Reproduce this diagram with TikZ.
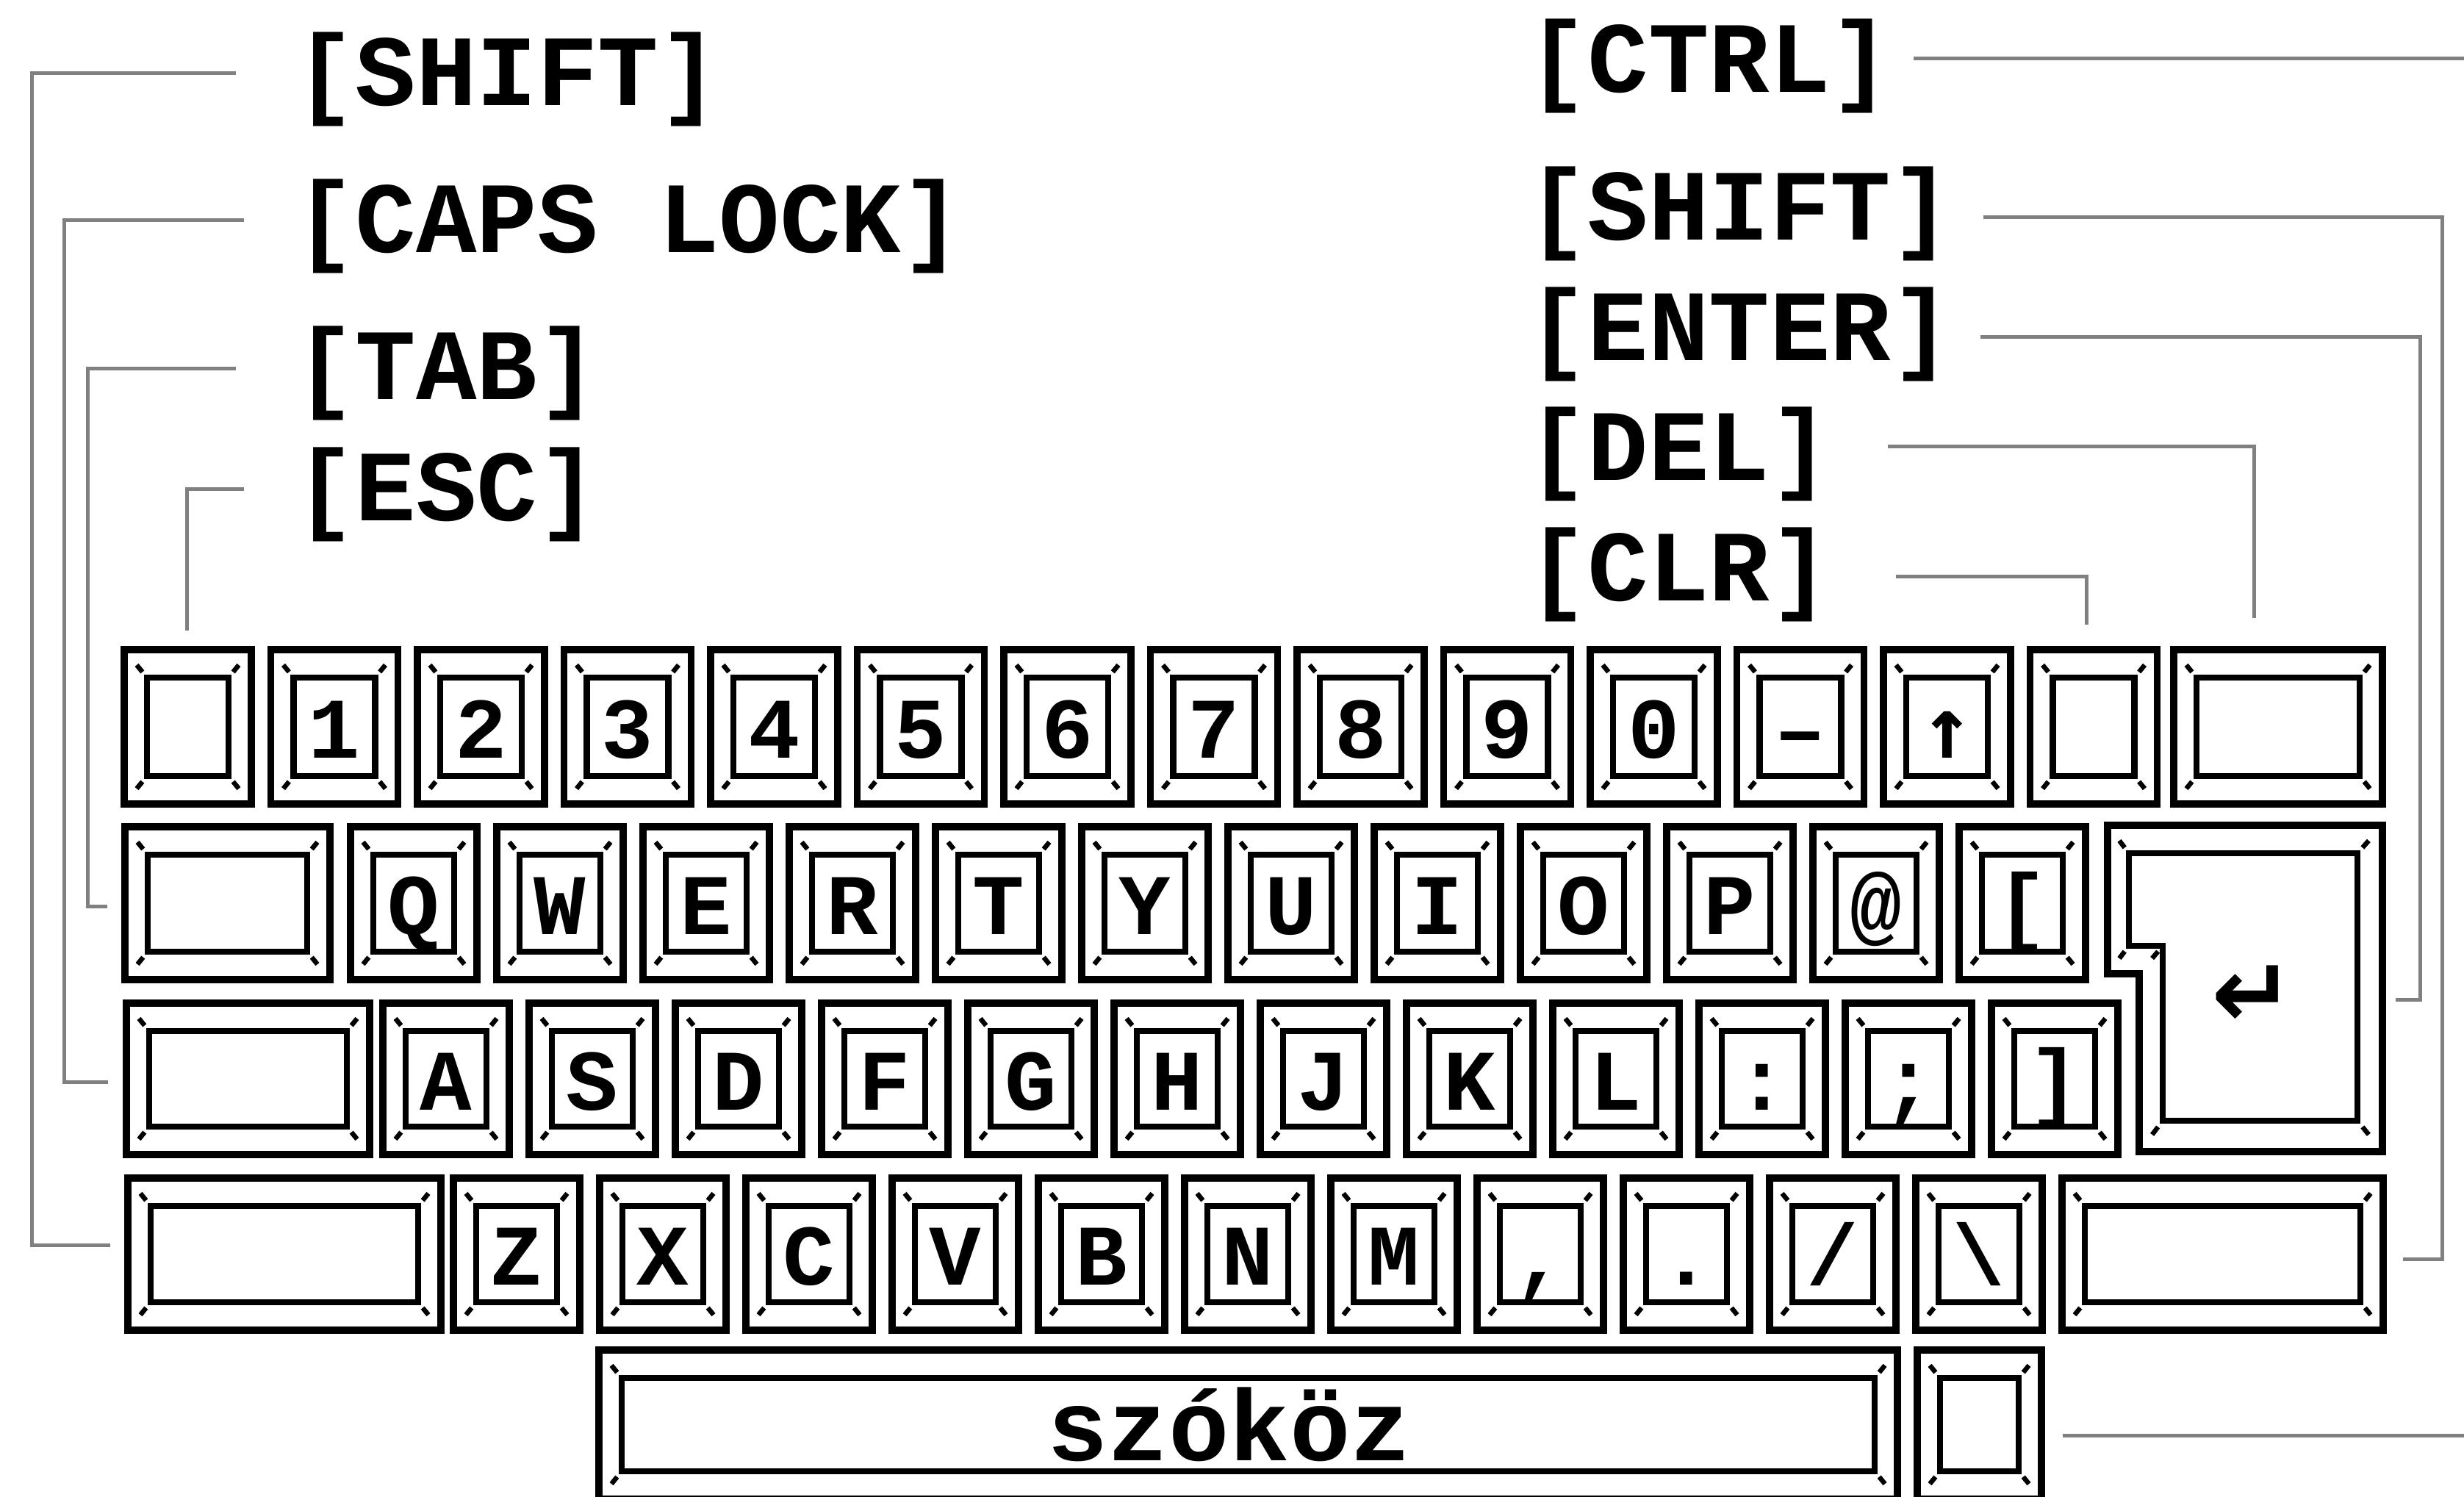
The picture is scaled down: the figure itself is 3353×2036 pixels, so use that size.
\documentclass[tikz,border=0pt]{standalone}
\usepackage{fontspec}
\setmonofont{Liberation Mono}
\newfontfamily\dvmono{DejaVu Sans Mono}
\newfontfamily\dvsans{DejaVu Sans}
\usetikzlibrary{calc}
\tikzset{
  keybox/.style={draw, line width=1.9pt, inner sep=0pt, outer sep=0pt},
  keyline/.style={line width=1.9pt, line join=miter},
  keyin/.style={line width=1.7pt},
  keytick/.style={line width=1.3pt},
  conn/.style={draw=black!50, line width=1pt},
  lbl/.style={font=\ttfamily\bfseries\fontsize{27.5pt}{30pt}\selectfont, inner sep=0pt, anchor=base west},
  kglyph/.style={font=\ttfamily\bfseries\fontsize{23.5pt}{25pt}\selectfont, inner sep=0pt, anchor=base},
}
\newcommand\kbkey[6]{%
  \node[keybox, minimum width={(#4-#2)*0.2pt}, minimum height={(#5-#3)*0.2pt}] (#1) at ({(#2+#4)/2},{(#3+#5)/2}) {};
  \coordinate (#1a) at ($(#1.north west)+(31,38)$);
  \coordinate (#1b) at ($(#1.south east)+(-31,-38)$);
  \coordinate (#1c) at (#1a -| #1b);
  \coordinate (#1d) at (#1b -| #1a);
  \draw[keyin] (#1a) rectangle (#1b);
  \draw[keytick] ($(#1.north west)!0.55!(#1a)$) -- ($(#1.north west)!0.8!(#1a)$);
  \draw[keytick] ($(#1.north east)!0.55!(#1c)$) -- ($(#1.north east)!0.8!(#1c)$);
  \draw[keytick] ($(#1.south east)!0.55!(#1b)$) -- ($(#1.south east)!0.8!(#1b)$);
  \draw[keytick] ($(#1.south west)!0.55!(#1d)$) -- ($(#1.south west)!0.8!(#1d)$);
  \node[kglyph] (#1t) at ($(#1.center)+(0,42)$) {#6};
}
\begin{document}
\begin{tikzpicture}[x=0.2pt,y=-0.2pt]
\useasboundingbox[fill=white] (0,0) rectangle (3353,2036);

% ---------- row 1
\kbkey{kEsc}{169}{884}{342}{1094}{}
\kbkey{kOne}{368.5}{884}{541.5}{1094}{1}
\kbkey{kTwo}{568}{884}{741}{1094}{2}
\kbkey{kThree}{767.5}{884}{940.5}{1094}{3}
\kbkey{kFour}{967}{884}{1140}{1094}{4}
\kbkey{kFive}{1166.5}{884}{1339.5}{1094}{5}
\kbkey{kSix}{1366}{884}{1539}{1094}{6}
\kbkey{kSeven}{1565.5}{884}{1738.5}{1094}{7}
\kbkey{kEight}{1765}{884}{1938}{1094}{8}
\kbkey{kNine}{1964.5}{884}{2137.5}{1094}{9}
\kbkey{kZero}{2164}{884}{2337}{1094}{0}
\kbkey{kMinus}{2363.5}{884}{2536.5}{1094}{–}
\kbkey{kUp}{2563}{884}{2736}{1094}{{\dvmono ↑}}
\kbkey{kClr}{2762.5}{884}{2935.5}{1094}{}
\kbkey{kDel}{2958}{884}{3242}{1094}{}

% ---------- row 2
\kbkey{kTab}{170}{1125}{449}{1333}{}
\kbkey{kQ}{477}{1125}{649}{1333}{Q}
\kbkey{kW}{676}{1125}{848}{1333}{W}
\kbkey{kE}{875}{1125}{1047}{1333}{E}
\kbkey{kR}{1074}{1125}{1246}{1333}{R}
\kbkey{kT}{1273}{1125}{1445}{1333}{T}
\kbkey{kY}{1472}{1125}{1644}{1333}{Y}
\kbkey{kU}{1671}{1125}{1843}{1333}{U}
\kbkey{kI}{1870}{1125}{2042}{1333}{I}
\kbkey{kO}{2069}{1125}{2241}{1333}{O}
\kbkey{kP}{2268}{1125}{2440}{1333}{P}
\kbkey{kAt}{2467}{1125}{2639}{1333}{@}
\kbkey{kLbr}{2666}{1125}{2838}{1333}{[}

% Enter key
\node[inner sep=0pt, minimum width={374*0.2pt}, minimum height={444*0.2pt}] (kEnter) at (3055,1345) {};
\draw[keyline] (2868,1123) -- (3242,1123) -- (3242,1567) -- (2911,1567) -- (2911,1325) -- (2868,1325) -- cycle;
\draw[keyin] (2897,1161) -- (3208,1161) -- (3208,1525) -- (2943,1525) -- (2943,1287) -- (2897,1287) -- cycle;
\draw[keytick] ($(2868,1123)!0.55!(2897,1161)$) -- ($(2868,1123)!0.8!(2897,1161)$);
\draw[keytick] ($(3242,1123)!0.55!(3208,1161)$) -- ($(3242,1123)!0.8!(3208,1161)$);
\draw[keytick] ($(3242,1567)!0.55!(3208,1525)$) -- ($(3242,1567)!0.8!(3208,1525)$);
\draw[keytick] ($(2911,1567)!0.55!(2943,1525)$) -- ($(2911,1567)!0.8!(2943,1525)$);
\draw[keytick] ($(2868,1325)!0.55!(2897,1287)$) -- ($(2868,1325)!0.8!(2897,1287)$);
\draw[keytick] ($(2911,1325)!0.55!(2943,1287)$) -- ($(2911,1325)!0.8!(2943,1287)$);
\node[font=\dvsans\bfseries\fontsize{27pt}{29pt}\selectfont, inner sep=0pt] (kEnterT) at (3066,1356) {↵};

% ---------- row 3
\kbkey{kCaps}{172}{1365}{503}{1571}{}
\kbkey{kA}{521}{1365}{693}{1571}{A}
\kbkey{kS}{720}{1365}{892}{1571}{S}
\kbkey{kD}{919}{1365}{1091}{1571}{D}
\kbkey{kF}{1118}{1365}{1290}{1571}{F}
\kbkey{kG}{1317}{1365}{1489}{1571}{G}
\kbkey{kH}{1516}{1365}{1688}{1571}{H}
\kbkey{kJ}{1715}{1365}{1887}{1571}{J}
\kbkey{kK}{1914}{1365}{2086}{1571}{K}
\kbkey{kL}{2113}{1365}{2285}{1571}{L}
\kbkey{kColon}{2312}{1365}{2484}{1571}{:}
\kbkey{kSemi}{2511}{1365}{2683}{1571}{;}
\kbkey{kRbr}{2710}{1365}{2882}{1571}{]}

% ---------- row 4
\kbkey{kLsh}{174}{1603}{600}{1810}{}
\kbkey{kZ}{617}{1603}{789}{1810}{Z}
\kbkey{kX}{816}{1603}{988}{1810}{X}
\kbkey{kC}{1015}{1603}{1187}{1810}{C}
\kbkey{kV}{1214}{1603}{1386}{1810}{V}
\kbkey{kB}{1413}{1603}{1585}{1810}{B}
\kbkey{kN}{1612}{1603}{1784}{1810}{N}
\kbkey{kM}{1811}{1603}{1983}{1810}{M}
\kbkey{kComma}{2010}{1603}{2182}{1810}{,}
\kbkey{kDot}{2209}{1603}{2381}{1810}{.}
\kbkey{kSlash}{2408}{1603}{2580}{1810}{/}
\kbkey{kBslash}{2607}{1603}{2779}{1810}{\textbackslash}
\kbkey{kRsh}{2806}{1603}{3243}{1810}{}

% ---------- row 5
\kbkey{kSpace}{815}{1837}{2582}{2040}{}
\node[lbl, anchor=base] (kSpaceT) at (1673,1987) {szóköz};
\kbkey{kCtrl}{2609}{1837}{2778}{2040}{}

% ---------- labels
\node[lbl] (Lshift) at (400,144) {[SHIFT]};
\node[lbl] (Lcaps) at (400,344) {[CAPS LOCK]};
\node[lbl] (Ltab) at (400,544) {[TAB]};
\node[lbl] (Lesc) at (400,709) {[ESC]};
\node[lbl] (Rctrl) at (2077,126) {[CTRL]};
\node[lbl] (Rshift) at (2077,327) {[SHIFT]};
\node[lbl] (Renter) at (2077,491) {[ENTER]};
\node[lbl] (Rdel) at (2077,654) {[DEL]};
\node[lbl] (Rclr) at (2077,818) {[CLR]};

% ---------- connectors
\draw[conn] ($(Lshift.base west)+(-79,-44)$) -| ($(kLsh.west)+(-131,-12)$) -- ($(kLsh.west)+(-24,-12)$);
\draw[conn] ($(Lcaps.base west)+(-68,-44)$) -| ($(kCaps.west)+(-85,4)$) -- ($(kCaps.west)+(-25,4)$);
\draw[conn] ($(Ltab.base west)+(-79,-42)$) -| ($(kTab.west)+(-51,4)$) -- ($(kTab.west)+(-24,4)$);
\draw[conn] ($(Lesc.base west)+(-68,-43)$) -| ($(kEsc.north)+(-1,-26)$);
\draw[conn] ($(Rctrl.base west)+(527,-46)$) -| ($(kCtrl.east)+(592,15)$) -- ($(kCtrl.east)+(29,15)$);
\draw[conn] ($(Rshift.base west)+(622,-31)$) -| ($(kRsh.east)+(80,7)$) -- ($(kRsh.east)+(27,7)$);
\draw[conn] ($(Renter.base west)+(618,-32)$) -| ($(kEnter.east)+(50,15)$) -- ($(kEnter.east)+(17,15)$);
\draw[conn] ($(Rdel.base west)+(492,-46)$) -| ($(kDel.north)+(-33,-43)$);
\draw[conn] ($(Rclr.base west)+(503,-34)$) -| ($(kClr.north)+(-10,-34)$);
\end{tikzpicture}
\end{document}
